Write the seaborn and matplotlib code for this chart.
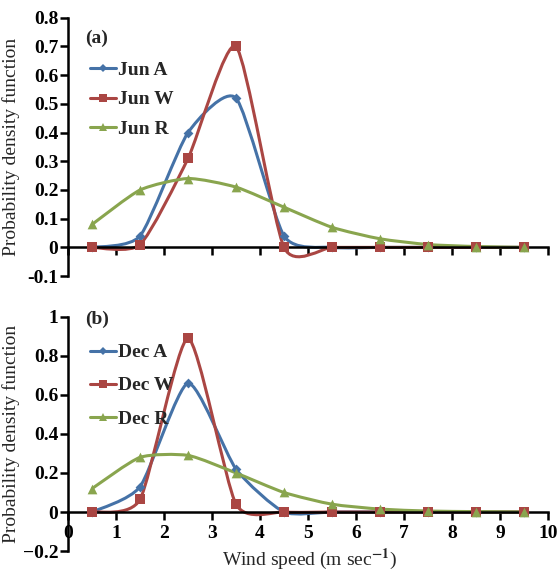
import numpy as np
import pandas as pd
import matplotlib
matplotlib.use("Agg")
import matplotlib.pyplot as plt
from matplotlib.path import Path
from matplotlib.patches import PathPatch
from matplotlib.lines import Line2D
import seaborn as sns

sns.set_theme(style="ticks")
plt.rcParams["font.family"] = ["Liberation Serif", "DejaVu Serif"]
plt.rcParams["mathtext.fontset"] = "stix"

# wind speed bin centres
wind = [0.5, 1.5, 2.5, 3.5, 4.5, 5.5, 6.5, 7.5, 8.5, 9.5]

# (a) June
jun_a = [0.0, 0.04, 0.40, 0.52, 0.04, 0.0, 0.0, 0.0, 0.0, 0.0]
jun_w = [0.0, 0.01, 0.31, 0.70, 0.0, 0.0, 0.0, 0.0, 0.0, 0.0]
jun_r = [0.08, 0.20, 0.24, 0.21, 0.14, 0.07, 0.03, 0.01, 0.003, 0.0]

# (b) December
dec_a = [0.0, 0.13, 0.66, 0.22, 0.0, 0.0, 0.0, 0.0, 0.0, 0.0]
dec_w = [0.0, 0.065, 0.89, 0.04, 0.0, 0.0, 0.0, 0.0, 0.0, 0.0]
dec_r = [0.12, 0.28, 0.29, 0.20, 0.10, 0.04, 0.015, 0.005, 0.002, 0.0]

colors = {"A": "#4572A7", "W": "#AA4643", "R": "#89A54E"}
markers = {"A": "D", "W": "s", "R": "^"}
msize = {"A": 5, "W": 6.5, "R": 7}


def smooth_path(x, y, k=1 / 6):
    # excel-like smoothed line: catmull-rom turned into cubic bezier
    pts = np.column_stack([x, y]).astype(float)
    n = len(pts)
    verts = [pts[0]]
    codes = [Path.MOVETO]
    for i in range(n - 1):
        p0 = pts[max(i - 1, 0)]
        p1 = pts[i]
        p2 = pts[i + 1]
        p3 = pts[min(i + 2, n - 1)]
        c1 = p1 + (p2 - p0) * k
        c2 = p2 - (p3 - p1) * k
        verts += [c1, c2, p2]
        codes += [Path.CURVE4] * 3
    return Path(verts, codes)


def panel(ax, month, series, ylim, yticks, ylabels, tag, tag_y, leg_y, spacing, show_x):
    handles = []
    for key, vals in series.items():
        df = pd.DataFrame({"wind": wind, "pdf": vals})
        ax.add_patch(PathPatch(smooth_path(df["wind"], df["pdf"], 0.105),
                               facecolor="none", edgecolor=colors[key],
                               lw=2.2, zorder=2))
        sns.scatterplot(data=df, x="wind", y="pdf", ax=ax, marker=markers[key],
                        color=colors[key], s=msize[key] ** 2, edgecolor=colors[key],
                        linewidth=0, zorder=3)
        handles.append(Line2D([], [], color=colors[key], lw=2.2, marker=markers[key],
                              markersize=msize[key] * 0.8, markeredgewidth=0))
    ax.set_xlim(0, 10)
    ax.set_ylim(*ylim)
    ax.set_yticks(yticks)
    ax.set_yticklabels(ylabels)
    ax.set_xticks(range(0, 11))
    if show_x:
        ax.set_xticklabels([str(i) for i in range(0, 11)])
    else:
        ax.set_xticklabels([])
    ax.spines["bottom"].set_position(("data", 0))
    ax.spines["right"].set_visible(False)
    ax.spines["top"].set_visible(False)
    for s in ("left", "bottom"):
        ax.spines[s].set_linewidth(1.8)
        ax.spines[s].set_color("black")
    ax.tick_params(axis="both", direction="out", length=6, width=1.8,
                   colors="black", pad=1, labelsize=14)
    ax.tick_params(axis="x", pad=3)
    for lab in ax.get_xticklabels() + ax.get_yticklabels():
        lab.set_fontweight("bold")
    ax.set_xlabel("")
    ax.set_ylabel("Probability density function", fontsize=14)
    ax.yaxis.set_label_coords(-0.10, 0.5)
    ax.text(0.035, tag_y, tag, transform=ax.transAxes, fontsize=14,
            fontweight="bold", va="center")
    ax.legend(handles, [f"{month} {k}" for k in series], loc="upper left",
              bbox_to_anchor=(0.01, leg_y), frameon=False, handlelength=1.3,
              handletextpad=0.1, labelspacing=spacing,
              prop={"size": 14, "weight": "bold"})


fig = plt.figure(figsize=(5.58, 5.74), dpi=100)
ax1 = fig.add_axes([0.122, 0.519, 0.860, 0.450])
ax2 = fig.add_axes([0.122, 0.040, 0.860, 0.408])

panel(ax1, "Jun", {"A": jun_a, "W": jun_w, "R": jun_r}, (-0.1, 0.8),
      np.arange(-0.1, 0.81, 0.1),
      ["-0.1", "0", "0.1", "0.2", "0.3", "0.4", "0.5", "0.6", "0.7", "0.8"],
      "(a)", 0.92, 0.90, 0.62, False)
panel(ax2, "Dec", {"A": dec_a, "W": dec_w, "R": dec_r}, (-0.2, 1.0),
      np.arange(-0.2, 1.01, 0.2),
      ["\u22120.2", "0", "0.2", "0.4", "0.6", "0.8", "1"],
      "(b)", 0.99, 0.96, 0.8, True)

fig.text(0.555, 0.025, r"Wind speed (m sec$^{\mathbf{-1}}$)", ha="center",
         va="center", fontsize=14)

fig.savefig("out.png", dpi=100)
